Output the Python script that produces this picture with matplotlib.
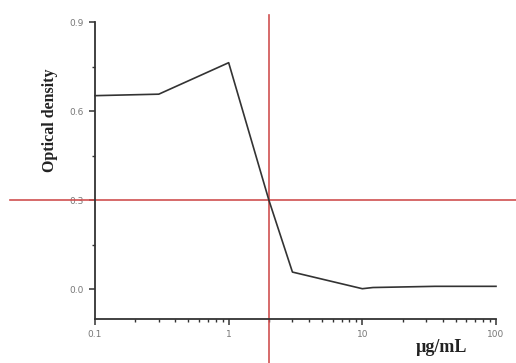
import matplotlib
matplotlib.use("Agg")
import matplotlib.pyplot as plt
from matplotlib.ticker import FixedLocator, NullFormatter, LogLocator

conc = [0.1, 0.3, 1, 2, 3, 10, 12, 35, 100]
od = [0.652, 0.657, 0.763, 0.30, 0.058, 0.002, 0.006, 0.010, 0.010]
xticks = [0.1, 1, 10, 100]
xticklabels = ["0.1", "1", "10", "100"]
yticks = [0.0, 0.3, 0.6, 0.9]
yticklabels = ["0.0", "0.3", "0.6", "0.9"]
ic50_x = 2
ic50_y = 0.3

fig = plt.figure(figsize=(5.16, 3.63), dpi=100)
W, H = 516, 363
ax = fig.add_axes([95 / W, 1 - 319 / H, (496 - 95) / W, (319 - 22) / H])

ax.plot(conc, od, color="#333333", lw=1.2, clip_on=False, zorder=3)
ax.set_xscale("log")
ax.set_xlim(0.1, 100)
ax.set_ylim(-0.1, 0.9)

ax.set_xticks(xticks)
ax.set_xticklabels(xticklabels)
ax.xaxis.set_minor_locator(LogLocator(base=10, subs=range(2, 10)))
ax.xaxis.set_minor_formatter(NullFormatter())
ax.set_yticks(yticks)
ax.set_yticklabels(yticklabels)
ax.yaxis.set_minor_locator(FixedLocator([0.15, 0.45, 0.75]))

for s in ["top", "right"]:
    ax.spines[s].set_visible(False)
for s in ["left", "bottom"]:
    ax.spines[s].set_color("#333333")
    ax.spines[s].set_linewidth(1.3)

ax.tick_params(axis="both", which="major", direction="out", length=4, width=1.1,
               color="#333333", labelsize=6.5, labelcolor="#777777", pad=4)
ax.tick_params(axis="both", which="minor", direction="out", length=2.5, width=1.0,
               color="#333333")

# red reference lines spanning beyond axes
ax.axhline(ic50_y, xmin=(10 - 95) / (496 - 95), xmax=(516 - 95) / (496 - 95),
           color="#d05050", lw=1.2, clip_on=False, zorder=2)
ax.axvline(ic50_x, ymin=(319 - 363) / (319 - 22), ymax=(319 - 15) / (319 - 22),
           color="#d05050", lw=1.2, clip_on=False, zorder=2)

fig.text(50 / W, 1 - 120 / H, "Optical density", rotation=90, ha="center", va="center",
         fontsize=11.5, fontweight="bold", family="Liberation Serif", color="#222222")
fig.text(441 / W, 1 - 347 / H, "µg/mL", ha="center", va="center",
         fontsize=13, fontweight="bold", family="Liberation Serif", color="#222222")

fig.savefig("out.png", dpi=100)
